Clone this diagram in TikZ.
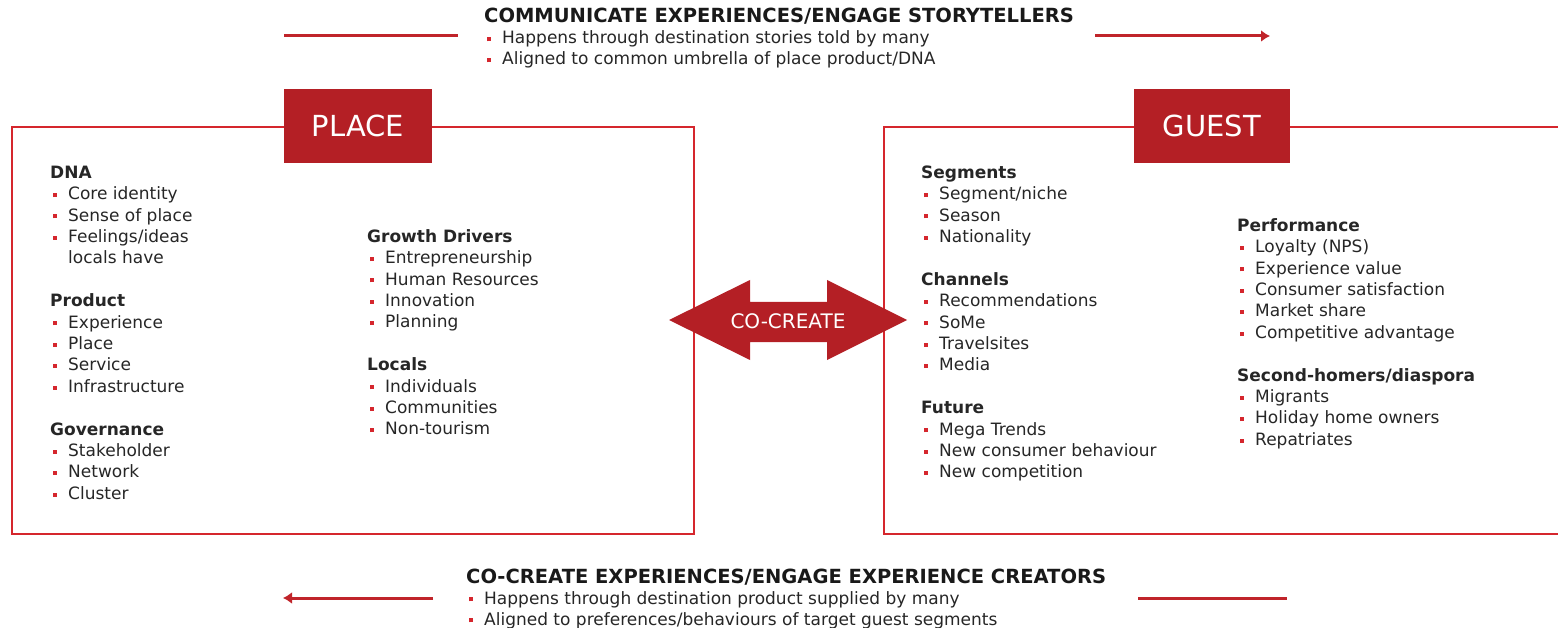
\documentclass[tikz,border=0pt]{standalone}
\usepackage{fontspec}
\setmainfont{DejaVu Sans}
\usetikzlibrary{arrows.meta}

\definecolor{boxred}{RGB}{180,31,37}
\definecolor{linered}{RGB}{213,38,45}
\definecolor{flowred}{RGB}{192,36,42}
\definecolor{textgray}{RGB}{38,38,38}

% list helpers
\newcommand{\bhead}[1]{\rule{0pt}{13pt}\textbf{#1}}
\newcommand{\bitem}[1]{\hspace*{3pt}\makebox[15pt][l]{\raisebox{2.6pt}{\textcolor{linered}{\rule{4pt}{4pt}}}}#1}
\newcommand{\bcont}[1]{\hspace*{18pt}#1}

\begin{document}
\begin{tikzpicture}[
    x = 1pt, y = -1pt,
    body/.style = {
        align = left,
        inner sep = 0pt,
        anchor = north west,
        text = textgray,
        font = \fontsize{17}{21.4}\selectfont
    },
    header/.style = {body, anchor = base west, font = \fontsize{17}{21}\selectfont},
    headtitle/.style = {body, anchor = base west, text = black!90, font = \bfseries\fontsize{19.5}{21}\selectfont},
    tag/.style = {
        fill = boxred,
        text = white,
        inner sep = 0pt,
        minimum height = 74pt,
        font = \fontsize{29}{30}\selectfont
    },
    frame/.style = {draw = linered, line width = 2.5pt},
    flow/.style = {draw = flowred, line width = 3pt},
    flowtip/.style = {flow, -{Latex[length = 9pt, width = 12pt]}}
]
\useasboundingbox (0,0) rectangle (1558,628);

% Top message
\node[headtitle] (toptitle) at (484,23) {COMMUNICATE EXPERIENCES/ENGAGE STORYTELLERS};
\node[header] (topitems) at (484,65) {\bitem{Happens through destination stories told by many}\\
    \bitem{Aligned to common umbrella of place product/DNA}};
\coordinate (tlA) at (284,36);
\coordinate (tlB) at (458,36);
\coordinate (trA) at (1095,36);
\coordinate (trB) at (1270,36);
\draw[flow] (tlA) -- (tlB);
\draw[flowtip] (trA) -- (trB);

% Bottom message
\node[headtitle] (bottitle) at (466,583) {CO-CREATE EXPERIENCES/ENGAGE EXPERIENCE CREATORS};
\node[header] (botitems) at (466,625) {\bitem{Happens through destination product supplied by many}\\
    \bitem{Aligned to preferences/behaviours of target guest segments}};
\coordinate (blA) at (433,598);
\coordinate (blB) at (283,598);
\coordinate (brA) at (1138,598);
\coordinate (brB) at (1287,598);
\draw[flowtip] (blA) -- (blB);
\draw[flow] (brA) -- (brB);

% Frames
\node[frame, inner sep = 0pt, outer sep = 0pt, minimum width = 682pt, minimum height = 407pt, anchor = north west] (placebox) at (12,127) {};
\draw[frame] (1565,127) -- (884,127) -- (884,534) -- (1565,534);
\node[tag, minimum width = 148pt] (placetag) at (358,126) {PLACE};
\node[tag, minimum width = 156pt] (guesttag) at (1212,126) {GUEST};

% Place columns
\node[body] (placeA) at (50,165) {\bhead{DNA}\\
    \bitem{Core identity}\\
    \bitem{Sense of place}\\
    \bitem{Feelings/ideas}\\
    \bcont{locals have}\\[21.4pt]
    \bhead{Product}\\
    \bitem{Experience}\\
    \bitem{Place}\\
    \bitem{Service}\\
    \bitem{Infrastructure}\\[21.4pt]
    \bhead{Governance}\\
    \bitem{Stakeholder}\\
    \bitem{Network}\\
    \bitem{Cluster}};
\node[body] (placeB) at (367,229) {\bhead{Growth Drivers}\\
    \bitem{Entrepreneurship}\\
    \bitem{Human Resources}\\
    \bitem{Innovation}\\
    \bitem{Planning}\\[21.4pt]
    \bhead{Locals}\\
    \bitem{Individuals}\\
    \bitem{Communities}\\
    \bitem{Non-tourism}};

% Guest columns
\node[body] (guestA) at (921,165) {\bhead{Segments}\\
    \bitem{Segment/niche}\\
    \bitem{Season}\\
    \bitem{Nationality}\\[21.4pt]
    \bhead{Channels}\\
    \bitem{Recommendations}\\
    \bitem{SoMe}\\
    \bitem{Travelsites}\\
    \bitem{Media}\\[21.4pt]
    \bhead{Future}\\
    \bitem{Mega Trends}\\
    \bitem{New consumer behaviour}\\
    \bitem{New competition}};
\node[body] (guestB) at (1237,218) {\bhead{Performance}\\
    \bitem{Loyalty (NPS)}\\
    \bitem{Experience value}\\
    \bitem{Consumer satisfaction}\\
    \bitem{Market share}\\
    \bitem{Competitive advantage}\\[21.4pt]
    \bhead{Second-homers/diaspora}\\
    \bitem{Migrants}\\
    \bitem{Holiday home owners}\\
    \bitem{Repatriates}};

% Co-create double arrow
\fill[boxred] (669,320) -- (750,280) -- (750,302) -- (827,302) -- (827,280) -- (907,320)
    -- (827,360) -- (827,342) -- (750,342) -- (750,360) -- cycle;
\node[text = white, font = \fontsize{20}{22}\selectfont] (cocreate) at (788,321) {CO-CREATE};

\end{tikzpicture}
\end{document}
